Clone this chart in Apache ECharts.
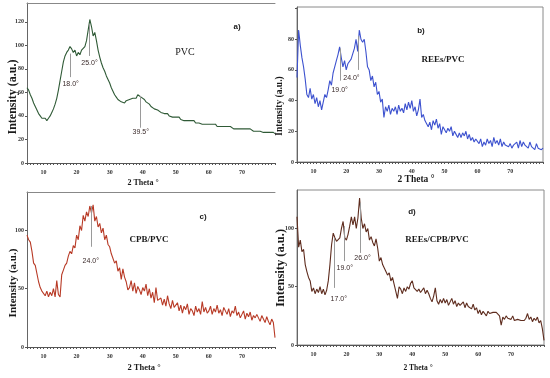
<!DOCTYPE html>
<html><head><meta charset="utf-8">
<script src="https://cdn.jsdelivr.net/npm/echarts@6/dist/echarts.min.js"></script>
<style>html,body{margin:0;padding:0;background:#fff}#c{width:550px;height:378px}</style>
</head><body><div id="c"></div>
<script>
// 2-theta scan grid: 5 to 80 degrees, 0.5 degree steps
var thetaStart = 5, thetaStep = 0.5;

var pvc = [
64,62,58,55,51,48,45,42,40,38,
37,38,36,38,40,43,46,50,55,62,
70,78,86,91,94,96,99,97,94,96,
91,94,92,96,95,99,104,113,122,116,
108,111,104,96,90,85,81,78,74,71,
68,64,61,58,56,54,53,52,53,51,
53,52,54,53,55,56,55,58,57,56,
55,54,52,51,50,48,47,46,47,45,
44,43,44,42,41,42,40,41,39,40,
39,38,39,37,38,36,37,36,35,36,
35,36,34,35,34,35,33,34,33,34,
33,32,33,32,33,31,32,31,32,31,
30,31,30,31,30,29,30,29,30,29,
30,29,28,29,28,29,28,27,28,27,
28,27,27,26,27,26,27,26,25,26,
25];

var reesPvc = [
55,86,76,68,62,54,44,42,48,41,
44,38,42,36,40,34,39,44,42,47,
53,50,58,62,66,70,75,68,62,66,
60,64,63,67,66,74,80,72,86,80,
78,80,72,62,60,53,56,49,52,44,
46,39,41,29,36,33,37,31,35,33,
36,31,37,33,35,32,38,34,39,35,
40,33,36,30,34,41,29,31,27,28,
23,26,21,27,24,28,22,25,18,23,
24,19,22,20,23,17,20,18,16,19,
16,19,17,20,15,18,14,16,13,15,
14,12,15,10,13,11,15,12,14,10,
16,12,14,11,15,10,13,11,12,10,
12,9,11,10,13,9,14,10,13,11,
12,9,13,10,11,8,12,9,10,8,
9];

var cpbPvc = [
96,92,90,82,72,70,71,56,51,48,
49,44,48,43,47,44,50,43,57,45,
43,62,66,70,72,78,82,80,87,85,
96,92,104,100,113,108,116,112,121,115,
122,108,112,103,106,98,102,92,96,88,
86,80,79,72,74,65,68,58,67,60,
56,49,51,57,48,55,46,52,49,45,
51,48,54,44,50,42,47,38,51,40,
39,42,36,41,35,44,37,33,40,34,
34,38,31,36,29,35,32,37,28,33,
31,27,35,30,33,28,39,30,34,29,
31,35,28,33,30,36,29,32,27,34,
31,28,33,26,31,29,35,27,30,25,
28,31,24,29,26,30,23,27,25,28,
25,22,27,24,21,26,22,19,24,21,
8];

var reesCpbPvc = [
110,84,90,80,82,69,63,58,55,46,
49,44,48,45,50,44,48,43,47,55,
69,86,96,92,89,88,92,100,106,92,
90,95,102,110,103,110,100,109,126,109,
100,104,97,100,90,93,88,85,91,83,
72,75,69,66,63,60,62,55,58,52,
52,40,50,48,44,49,46,50,48,53,
55,49,50,46,48,45,46,49,44,47,
44,40,37,42,49,38,35,39,36,40,
36,39,34,37,40,35,38,33,36,34,
35,37,32,36,33,34,31,35,30,32,
27,30,26,29,28,25,29,27,28,28,
28,28,29,25,17,24,22,25,23,24,
22,25,21,21,22,21,21,22,21,23,
27,22,24,20,23,21,24,19,21,14,
4];

// y tick labels per panel
var yTicksA = [0,20,40,60,80,100,120];
var yTicksB = [0,20,40,60,80];
var yTicksC = [0,50,100];
var yTicksD = [0,50,100];
var xTickLabels = [10,20,30,40,50,60,70];

// peak annotations: [theta, top, bottom, label, labelTheta, labelY]
var peaksA = [[18.0,93,73,'18.0°',18.2,67],[23.9,118,91,'25.0°',23.9,85],[39.4,57,30,'39.5°',39.4,26]];
var peaksB = [[18.1,74,53,'19.0°',18.0,47],[23.6,82,60,'24.0°',21.6,54.5]];
var peaksC = [[24.3,121,86,'24.0°',24.3,74]];
var peaksD = [[16.2,92,49,'17.0°',17.7,39],[19.2,102,72,'19.0°',19.5,66],[24.2,122,79,'26.0°',24.9,75]];

var panels = [
  {name:'PVC', tag:'a)', data:pvc, peaks:peaksA, yt:yTicksA, color:'#2f5a36', ymax:136, yint:20,
   grid:{left:27, top:3, width:248, height:160}},
  {name:'REEs/PVC', tag:'b)', data:reesPvc, peaks:peaksB, yt:yTicksB, color:'#3d52cf', ymax:101, yint:20,
   grid:{left:297, top:7, width:246, height:155}},
  {name:'CPB/PVC', tag:'c)', data:cpbPvc, peaks:peaksC, yt:yTicksC, color:'#b83a26', ymax:133, yint:50,
   grid:{left:27, top:192, width:248, height:155}},
  {name:'REEs/CPB/PVC', tag:'d)', data:reesCpbPvc, peaks:peaksD, yt:yTicksD, color:'#5e2c1e', ymax:133, yint:50,
   grid:{left:297, top:190, width:247, height:155}}
];

function pairs(arr){ return arr.map(function(v,i){ return [thetaStart + i*thetaStep, v]; }); }

var tickFont = {fontFamily:'Liberation Serif', fontWeight:'bold', fontSize:6, color:'#333'};
var grids=[], xAxes=[], yAxes=[], series=[];
panels.forEach(function(p, k){
  var framed = (k===1 || k===3);
  grids.push(Object.assign({show: framed, borderColor:'#8a8a8a', borderWidth:1, backgroundColor:'transparent'}, p.grid));
  xAxes.push({type:'value', gridIndex:k, min:5, max:80, interval:5,
    axisLine:{show:true, onZero:false, lineStyle:{color:'#555', width:1}},
    axisTick:{show:true, length:2, lineStyle:{color:'#555'}},
    minorTick:{show:true, splitNumber:5, length:2, lineStyle:{color:'#555'}},
    splitLine:{show:false},
    axisLabel:Object.assign({margin:6, formatter:function(v){ return xTickLabels.indexOf(v)>=0 ? String(v) : ''; }}, tickFont)
  });
  var yt = p.yt;
  yAxes.push({type:'value', gridIndex:k, min:0, max:p.ymax, interval:p.yint,
    axisLine:{show:true, lineStyle:{color:'#666', width:1}},
    axisTick:{show:true, length:2, lineStyle:{color:'#555'}},
    splitLine:{show:false},
    axisLabel:Object.assign({margin:3, showMaxLabel:false, formatter:function(v){ return yt.indexOf(v)>=0 ? String(v) : ''; }}, tickFont)
  });
  var ml = p.peaks.map(function(q){ return [{coord:[q[0],q[1]]},{coord:[q[0],q[2]]}]; });
  var mp = p.peaks.map(function(q){ return {coord:[q[4],q[5]], value:q[3]}; });
  series.push({type:'line', xAxisIndex:k, yAxisIndex:k, data:pairs(p.data), showSymbol:false, symbol:'none',
    lineStyle:{color:p.color, width:1.1}, animation:false, z:3,
    markLine:{silent:true, symbol:['none','none'], animation:false,
      lineStyle:{color:'#9a9a9a', width:1, type:'solid'}, label:{show:false}, data:ml},
    markPoint:{silent:true, symbol:'circle', symbolSize:0, animation:false,
      label:{show:true, position:'inside', formatter:function(d){return d.value;},
        fontFamily:'Liberation Sans', fontSize:7, color:'#3a2a2a'}, data:mp}
  });
});
// top frame lines for panels a and c
[0,2].forEach(function(k){
  xAxes.push({type:'value', gridIndex:k, position:'top', min:5, max:80,
    axisLine:{show:true, onZero:false, lineStyle:{color:'#888', width:1}},
    axisTick:{show:false}, axisLabel:{show:false}, splitLine:{show:false}});
});

function txt(x,y,s,size,opt){
  opt = opt||{};
  return {type:'text', x:x, y:y, rotation:opt.rot||0, z:10, silent:true,
    style:{text:s, fontFamily:opt.family||'Liberation Serif', fontWeight:opt.weight||'bold',
      fontSize:size, fill:opt.fill||'#1a1a1a', align:'center', verticalAlign:'middle'}};
}
var R = Math.PI/2;
var graphics = [
  txt(237,27,'a)',8,{family:'Liberation Sans'}),
  txt(185,52,'PVC',10,{weight:'normal'}),
  txt(421,31,'b)',8,{family:'Liberation Sans'}),
  txt(443,60,'REEs/PVC',9),
  txt(203,217,'c)',8,{family:'Liberation Sans'}),
  txt(149,240,'CPB/PVC',9),
  txt(412,212,'d)',8,{family:'Liberation Sans'}),
  txt(437,240,'REEs/CPB/PVC',9),
  txt(13,97,'Intensity (a.u.)',12,{rot:R}),
  txt(280,106,'Intensity (a.u.)',9.5,{rot:R}),
  txt(13,283,'Intensity (a.u.)',11,{rot:R}),
  txt(281,268,'Intensity (a.u.)',12.5,{rot:R}),
  txt(143,183,'2 Theta °',8),
  txt(416,180,'2 Theta °',9.5),
  txt(144,368,'2 Theta °',8.5),
  txt(418,368,'2 Theta °',7.5)
];

var chart = echarts.init(document.getElementById('c'), null, {renderer:'canvas'});
chart.setOption({animation:false, backgroundColor:'#fff', grid:grids, xAxis:xAxes, yAxis:yAxes, series:series, graphic:graphics});
</script></body></html>
